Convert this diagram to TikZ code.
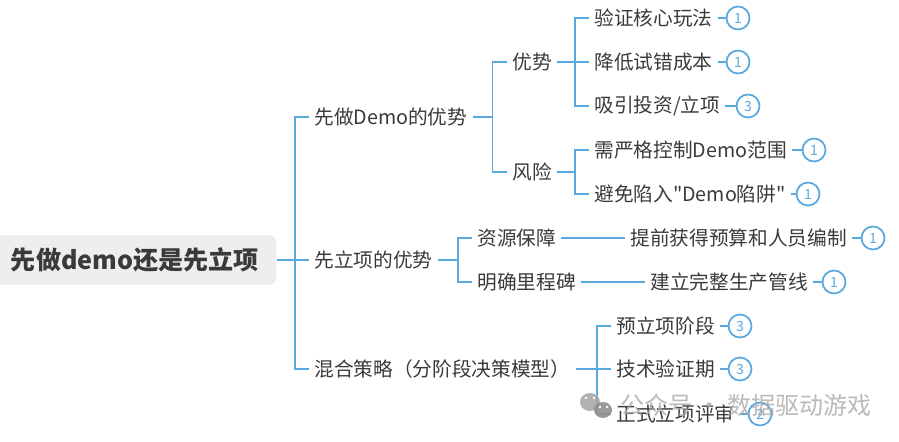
\documentclass[tikz,border=0pt]{standalone}
\usepackage{fontspec}
\usepackage{xcolor}
\setmainfont{Noto Sans CJK SC}[Ligatures=TeXOff]
\definecolor{linkblue}{HTML}{5AA9DE}
\definecolor{rootgray}{HTML}{EEEEEE}
\definecolor{inkgray}{HTML}{3A3A3A}
\definecolor{markgray}{HTML}{A8A8A8}
\begin{document}
\begin{tikzpicture}[x=0.02cm,y=-0.02cm,
    rootnode/.style={fill=rootgray,rounded corners=0.16cm,minimum width=5.66cm,minimum height=1cm,inner sep=0pt,text=inkgray,font=\fontsize{14.3}{16}\selectfont\bfseries},
    topic/.style={anchor=west,inner xsep=0.1cm,inner ysep=0pt,text=inkgray,font=\fontsize{11.2}{14}\selectfont},
    badge/.style={circle,draw=linkblue,line width=1pt,minimum size=0.46cm,inner sep=0pt,text=linkblue,font=\fontsize{8}{9}\selectfont},
    link/.style={draw=linkblue,line width=1pt},
    watermark/.style={anchor=west,inner sep=0pt,text=markgray,text opacity=0.8,font=\fontsize{13.7}{16}\selectfont}]
    \useasboundingbox (0,0) rectangle (899,442);
    \node[rootnode] (root) at (135,260) {先做demo还是先立项};
    % first level
    \node[topic] (demo) at (309,117) {先做Demo的优势};
    \node[topic] (project) at (309,260) {先立项的优势};
    \node[topic] (mixed) at (309,369) {混合策略（分阶段决策模型）};
    % second level
    \node[topic] (gain) at (507,62) {优势};
    \node[topic] (risk) at (507,172) {风险};
    \node[topic] (budget) at (472,238) {资源保障};
    \node[topic] (milestone) at (472,282) {明确里程碑};
    % leaves
    \node[topic] (core) at (589,18) {验证核心玩法};
    \node[topic] (cost) at (589,62) {降低试错成本};
    \node[topic] (invest) at (589,106) {吸引投资/立项};
    \node[topic] (scope) at (589,150) {需严格控制Demo范围};
    \node[topic] (trap) at (589,194) {避免陷入"Demo陷阱"};
    \node[topic] (staff) at (625,238) {提前获得预算和人员编制};
    \node[topic] (pipeline) at (645,282) {建立完整生产管线};
    \node[topic] (pre) at (611,326) {预立项阶段};
    \node[topic] (tech) at (611,369) {技术验证期};
    \node[topic] (review) at (611,414) {正式立项评审};
    % counts
    \node[badge] (corenum) at (738,18) {1};
    \node[badge] (costnum) at (738,62) {1};
    \node[badge] (investnum) at (748,106) {3};
    \node[badge] (scopenum) at (814,150) {1};
    \node[badge] (trapnum) at (808,194) {1};
    \node[badge] (staffnum) at (873,238) {1};
    \node[badge] (pipelinenum) at (834,282) {1};
    \node[badge] (prenum) at (740,326) {3};
    \node[badge] (technum) at (740,369) {3};
    \node[badge] (reviewnum) at (760,414) {2};
    % forks
    \coordinate (rootfork) at (295,260);
    \coordinate (demofork) at (492.5,117);
    \coordinate (projectfork) at (458,260);
    \coordinate (mixedfork) at (597,369);
    \coordinate (gainfork) at (575,62);
    \coordinate (riskfork) at (575,172);
    \draw[link] (root.east) -- (project.west);
    \draw[link] (demo.west) -| (rootfork) |- (mixed.west);
    \draw[link] (demo.east) -- (demofork);
    \draw[link] (gain.west) -| (demofork) |- (risk.west);
    \draw[link] (project.east) -- (projectfork);
    \draw[link] (budget.west) -| (projectfork) |- (milestone.west);
    \draw[link] (gain.east) -- (cost.west);
    \draw[link] (core.west) -| (gainfork) |- (invest.west);
    \draw[link] (risk.east) -- (riskfork);
    \draw[link] (scope.west) -| (riskfork) |- (trap.west);
    \draw[link] (budget.east) -- (staff.west);
    \draw[link] (milestone.east) -- (pipeline.west);
    \draw[link] (mixed.east) -- (tech.west);
    \draw[link] (pre.west) -| (mixedfork) |- (review.west);
    \foreach \leaf in {core,cost,invest,scope,trap,staff,pipeline,pre,tech,review}
        \draw[link] (\leaf.east) -- (\leaf num.west);
    % watermark
    \fill[markgray,opacity=0.9] (590,402) ellipse (10 and 9);
    \fill[markgray!85!black,opacity=0.9] (603,410) ellipse (9 and 8);
    \foreach \eyex/\eyey in {586/398,594/398,600/407,607/407}
        \fill[white] (\eyex,\eyey) circle (1.3);
    \node[watermark] (mark) at (620,405) {公众号 · 数据驱动游戏};
\end{tikzpicture}
\end{document}
